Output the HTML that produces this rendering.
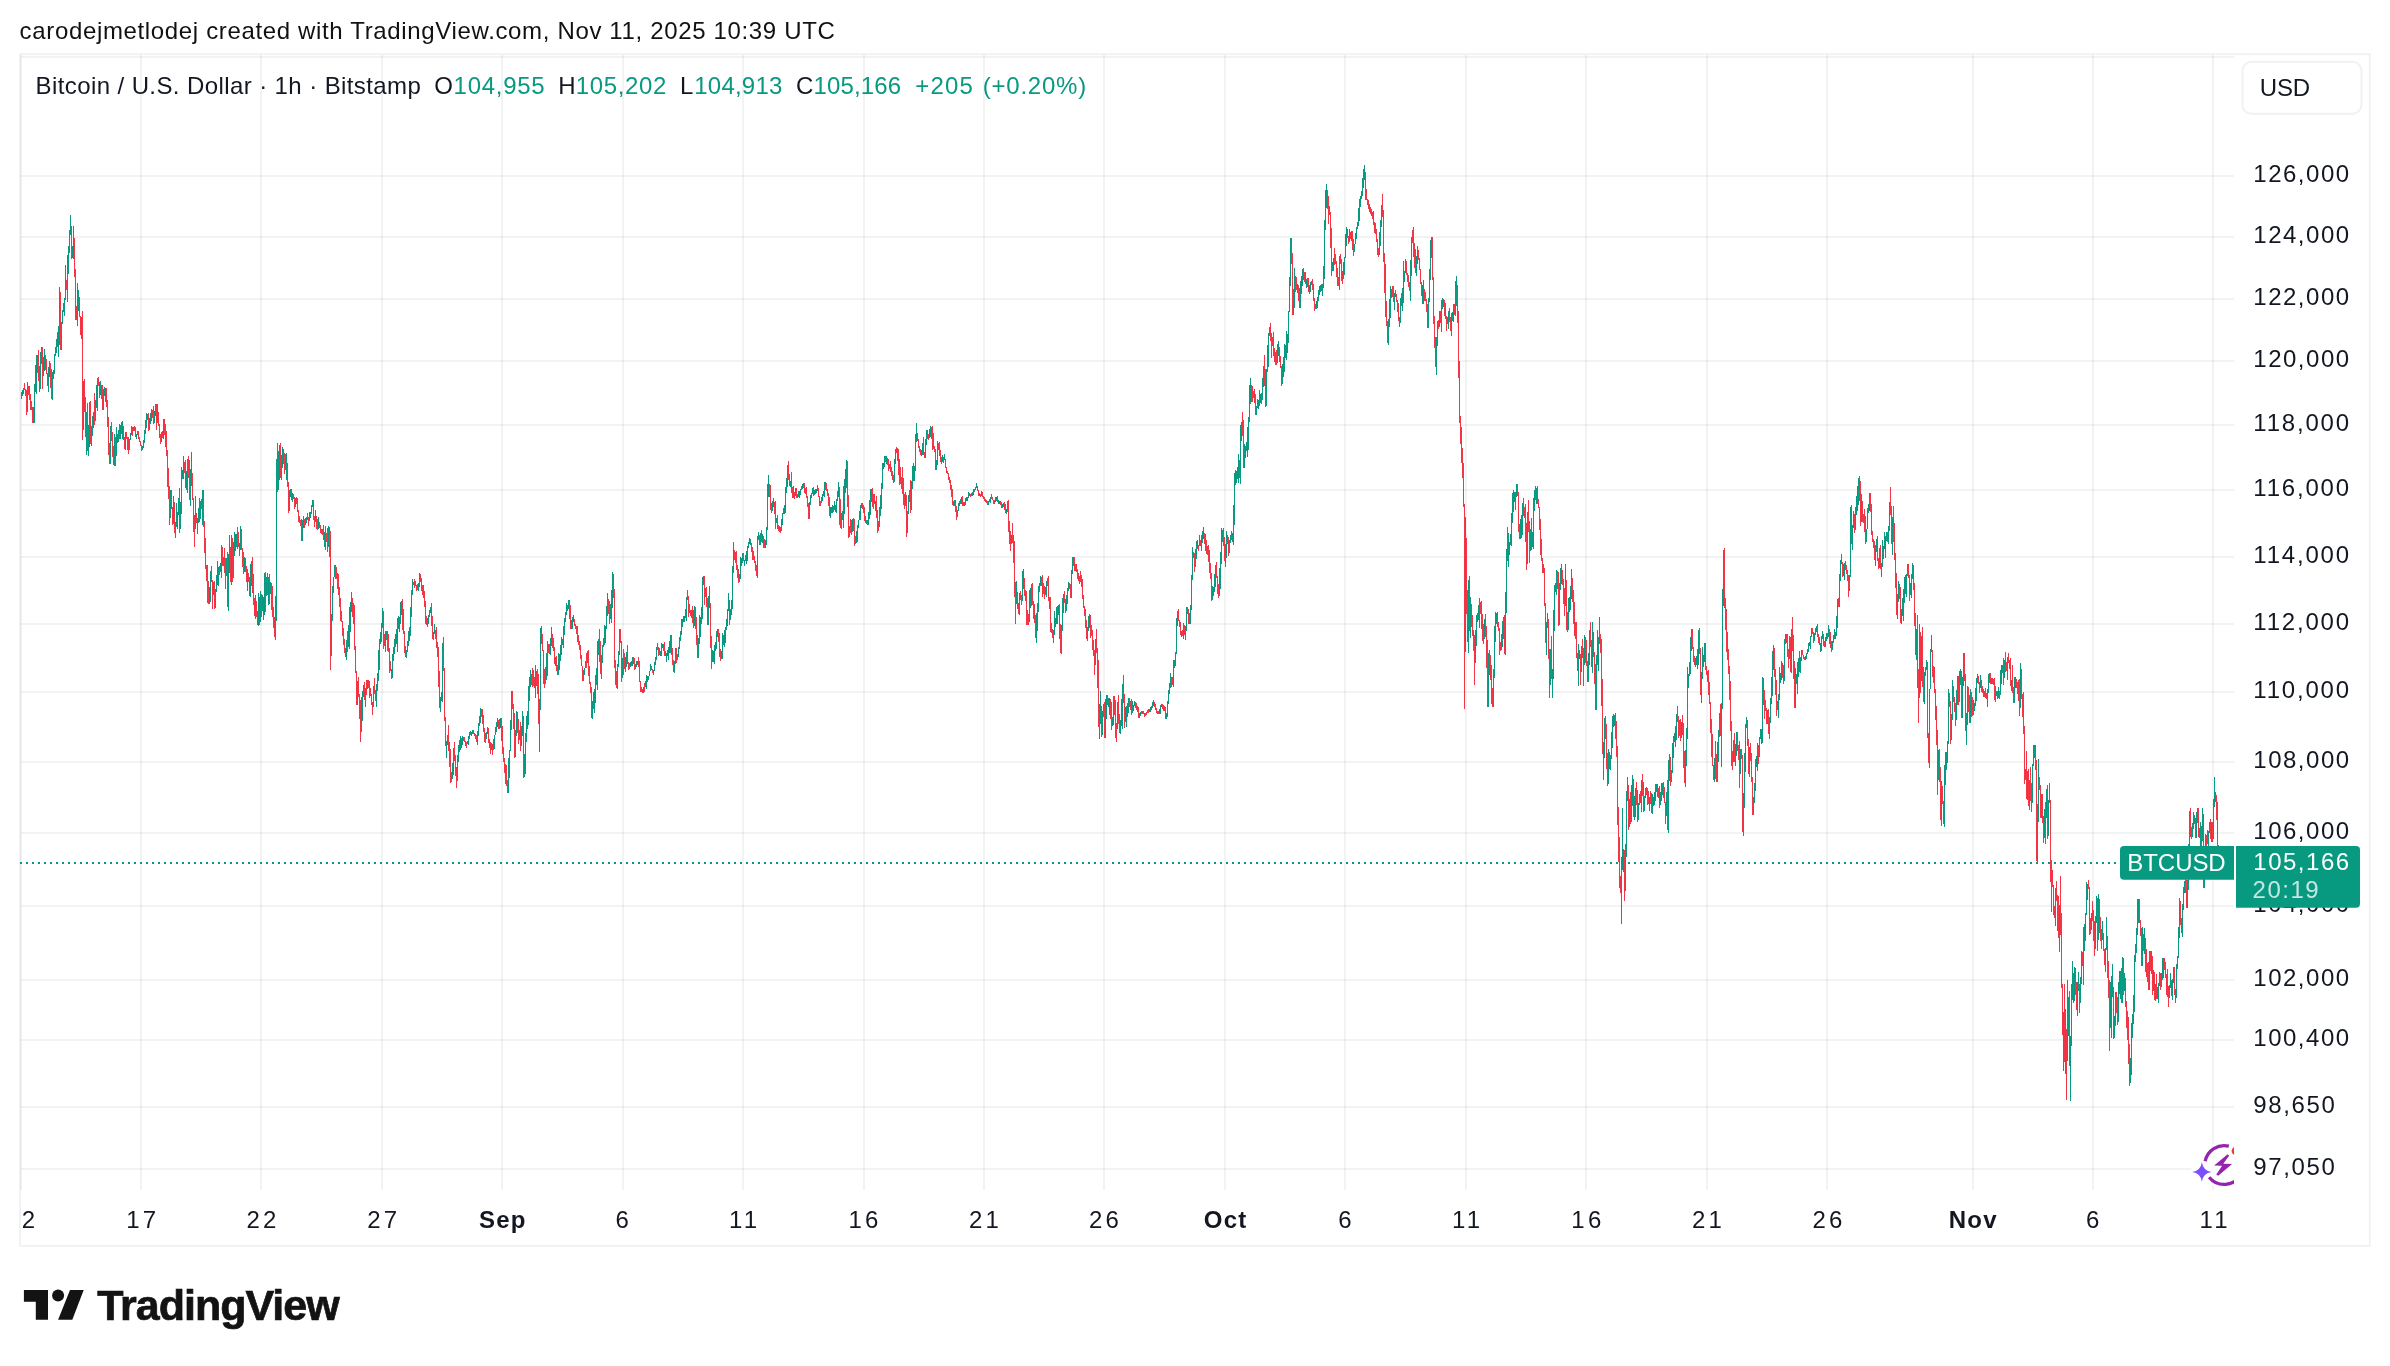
<!DOCTYPE html>
<html lang="en"><head><meta charset="utf-8"><title>BTCUSD chart — TradingView</title>
<style>
html,body{margin:0;padding:0;background:#fff;}
body{width:2390px;height:1366px;overflow:hidden;position:relative;font-family:"Liberation Sans",sans-serif;}
svg{position:absolute;left:0;top:0;display:block;will-change:transform}
text{font-family:"Liberation Sans",sans-serif;font-size:24px;fill:#131722;white-space:pre}
.g{fill:#089981}
.b{font-weight:bold}
.w{fill:#fff}
</style></head><body>
<svg width="2390" height="1366" viewBox="0 0 2390 1366">
<rect width="2390" height="1366" fill="#fff"/>
<rect x="20.1" y="54.2" width="2349.7" height="1191.7" fill="none" stroke="#f1f2f4" stroke-width="2"/>
<g fill="rgba(42,46,57,0.06)"><rect x="20" y="55" width="2" height="1135"/><rect x="140" y="55" width="2" height="1135"/><rect x="260" y="55" width="2" height="1135"/><rect x="381" y="55" width="2" height="1135"/><rect x="501" y="55" width="2" height="1135"/><rect x="622" y="55" width="2" height="1135"/><rect x="742" y="55" width="2" height="1135"/><rect x="863" y="55" width="2" height="1135"/><rect x="983" y="55" width="2" height="1135"/><rect x="1103" y="55" width="2" height="1135"/><rect x="1224" y="55" width="2" height="1135"/><rect x="1344" y="55" width="2" height="1135"/><rect x="1465" y="55" width="2" height="1135"/><rect x="1585" y="55" width="2" height="1135"/><rect x="1706" y="55" width="2" height="1135"/><rect x="1826" y="55" width="2" height="1135"/><rect x="1972" y="55" width="2" height="1135"/><rect x="2092" y="55" width="2" height="1135"/><rect x="2212" y="55" width="2" height="1135"/><rect x="21" y="56" width="2213" height="2"/><rect x="21" y="175" width="2213" height="2"/><rect x="21" y="236" width="2213" height="2"/><rect x="21" y="298" width="2213" height="2"/><rect x="21" y="360" width="2213" height="2"/><rect x="21" y="424" width="2213" height="2"/><rect x="21" y="489" width="2213" height="2"/><rect x="21" y="556" width="2213" height="2"/><rect x="21" y="623" width="2213" height="2"/><rect x="21" y="691" width="2213" height="2"/><rect x="21" y="761" width="2213" height="2"/><rect x="21" y="832" width="2213" height="2"/><rect x="21" y="905" width="2213" height="2"/><rect x="21" y="979" width="2213" height="2"/><rect x="21" y="1039" width="2213" height="2"/><rect x="21" y="1106" width="2213" height="2"/><rect x="21" y="1168" width="2213" height="2"/></g>
<g fill="none" stroke-width="1" shape-rendering="crispEdges">
<path stroke="#f23645" d="M24.5 383.3V389.7M25.5 388.9V395.7M26.5 389.8V415.3M28.5 385.6V394.6M29.5 385.7V400.1M30.5 394.1V409.6M31.5 401.1V410.1M32.5 406.5V423.2M38.5 349.8V380.9M42.5 347.3V388.9M45.5 354.5V369.8M46.5 359.0V374.1M47.5 373.1V385.5M50.5 362.8V388.4M51.5 369.0V398.9M60.5 292.4V350.3M66.5 280.3V290.0M71.5 226.2V259.1M74.5 237.5V277.3M75.5 268.6V319.9M76.5 306.3V319.7M79.5 297.3V316.6M80.5 316.2V334.8M82.5 310.7V439.6M84.5 378.9V412.0M85.5 397.1V436.9M87.5 403.0V451.0M90.5 400.9V444.2M94.5 393.0V425.4M98.5 377.0V386.0M99.5 382.1V398.0M101.5 385.0V399.3M102.5 384.6V409.7M106.5 388.2V406.5M107.5 399.7V427.2M108.5 417.1V454.6M109.5 442.5V463.8M111.5 421.8V441.1M112.5 432.0V456.7M113.5 446.3V464.9M115.5 436.7V466.2M119.5 423.6V438.9M121.5 422.2V433.6M123.5 425.9V439.5M124.5 436.5V449.0M126.5 432.2V439.1M127.5 436.7V450.1M128.5 436.6V453.6M132.5 427.0V435.8M134.5 426.3V430.9M135.5 427.3V436.8M137.5 430.6V435.4M138.5 430.6V438.5M139.5 437.3V441.9M140.5 441.2V445.7M141.5 444.7V450.8M148.5 413.1V430.7M152.5 410.4V418.0M153.5 406.4V423.7M156.5 404.4V429.8M158.5 412.3V426.4M159.5 423.6V437.6M160.5 433.9V444.0M162.5 430.5V438.3M164.5 418.8V434.8M165.5 424.4V447.0M166.5 430.9V455.6M167.5 449.7V486.8M168.5 468.0V498.5M169.5 486.1V525.3M171.5 489.5V509.0M172.5 507.0V525.3M174.5 502.4V533.3M179.5 488.0V532.5M184.5 462.0V472.7M185.5 459.9V488.1M188.5 455.9V478.0M189.5 460.1V500.4M192.5 472.6V500.0M193.5 497.8V532.0M194.5 514.6V547.0M196.5 512.9V523.4M201.5 498.7V508.8M203.5 489.9V527.2M204.5 520.9V553.3M205.5 538.1V568.8M206.5 564.8V581.0M207.5 564.7V603.2M208.5 581.0V604.2M211.5 566.0V582.4M212.5 579.7V608.8M214.5 580.5V608.7M219.5 566.2V575.2M222.5 546.7V565.9M223.5 556.5V565.5M224.5 547.9V572.7M225.5 557.5V588.9M227.5 551.6V607.3M230.5 547.3V581.5M232.5 537.5V581.9M237.5 526.8V548.6M238.5 532.1V547.4M241.5 528.5V549.7M242.5 547.7V567.3M243.5 551.7V573.7M245.5 558.1V572.3M246.5 566.1V582.1M248.5 573.2V582.2M249.5 577.1V596.1M252.5 556.7V592.9M253.5 573.5V605.1M254.5 597.7V615.5M256.5 600.5V616.8M261.5 593.8V617.1M265.5 571.8V611.6M267.5 573.0V595.3M269.5 574.1V604.0M271.5 582.7V610.3M272.5 586.0V617.0M273.5 607.2V627.8M274.5 617.0V637.3M277.5 442.8V491.9M280.5 443.0V478.2M283.5 448.8V463.9M284.5 452.6V473.9M285.5 453.5V469.7M287.5 463.3V486.5M288.5 482.4V513.1M291.5 488.8V499.6M293.5 493.7V498.5M294.5 497.2V508.8M296.5 496.9V504.3M297.5 497.8V512.4M298.5 510.2V521.9M299.5 515.5V522.7M300.5 519.9V526.4M301.5 518.5V540.8M304.5 518.8V527.5M307.5 513.2V520.1M308.5 517.2V525.8M313.5 500.1V520.2M314.5 516.0V526.5M316.5 515.5V529.2M317.5 519.0V529.9M319.5 522.1V527.8M320.5 524.9V533.2M321.5 528.6V534.3M322.5 529.0V534.8M323.5 524.8V540.1M325.5 525.7V549.6M326.5 532.9V541.9M327.5 528.2V551.8M329.5 526.5V556.7M330.5 530.5V669.9M335.5 565.1V578.6M336.5 566.9V578.8M337.5 572.9V588.8M338.5 574.2V595.4M339.5 586.5V607.0M340.5 598.1V621.1M341.5 611.1V621.9M342.5 620.7V635.5M343.5 628.3V644.6M344.5 638.6V653.3M347.5 631.4V652.3M352.5 598.3V616.7M353.5 602.7V623.9M354.5 604.5V650.3M355.5 645.8V672.7M356.5 671.0V705.0M358.5 676.8V697.3M359.5 693.5V718.8M360.5 699.9V741.7M364.5 681.9V699.5M366.5 680.1V695.3M368.5 680.1V687.8M369.5 681.4V698.0M370.5 688.2V695.8M371.5 694.3V705.0M372.5 702.4V715.4M374.5 677.6V694.2M375.5 689.8V700.5M383.5 610.7V648.8M384.5 633.5V645.5M387.5 630.7V650.7M388.5 633.6V651.9M389.5 647.9V673.2M390.5 661.4V670.9M391.5 669.4V678.6M402.5 599.3V629.6M403.5 608.6V634.3M404.5 631.1V652.5M405.5 646.4V656.7M414.5 579.1V588.2M416.5 584.5V590.9M417.5 583.6V590.3M420.5 573.6V582.1M421.5 578.0V591.0M422.5 585.3V595.3M423.5 585.1V598.0M424.5 591.2V607.4M425.5 601.2V623.7M426.5 616.1V625.0M431.5 603.1V626.1M432.5 615.7V639.0M435.5 630.1V639.1M436.5 627.4V648.3M437.5 641.8V656.8M438.5 647.1V687.1M439.5 670.8V707.5M443.5 636.9V671.1M444.5 667.7V720.8M445.5 717.1V745.8M448.5 724.8V751.1M449.5 741.7V767.2M450.5 749.2V782.6M451.5 772.4V782.3M454.5 741.5V760.7M455.5 755.2V776.3M456.5 766.7V787.5M463.5 736.7V740.8M464.5 737.1V741.6M465.5 740.6V745.5M466.5 742.0V747.7M473.5 730.0V734.0M474.5 733.0V736.0M475.5 734.0V739.1M476.5 734.5V741.8M481.5 708.5V717.1M482.5 708.7V724.3M483.5 714.7V731.5M484.5 727.6V742.1M485.5 732.7V742.8M488.5 727.8V742.8M489.5 739.2V747.9M490.5 742.3V754.1M492.5 744.3V755.3M498.5 720.2V729.2M501.5 718.3V740.6M502.5 726.2V754.4M503.5 747.2V762.2M504.5 757.6V772.8M505.5 764.0V783.5M506.5 764.8V785.5M507.5 780.1V792.9M512.5 691.1V708.9M513.5 703.9V728.8M514.5 712.6V758.1M517.5 711.6V732.9M518.5 719.2V744.0M519.5 729.6V740.1M520.5 721.8V751.3M523.5 715.6V777.9M531.5 673.6V685.0M532.5 668.1V687.4M533.5 670.3V685.5M534.5 677.4V688.3M536.5 670.8V686.0M537.5 668.9V694.2M538.5 674.0V723.8M542.5 634.1V651.2M543.5 650.2V683.5M544.5 668.5V687.8M545.5 667.3V683.8M548.5 644.1V653.4M549.5 643.7V654.2M552.5 633.5V648.0M553.5 638.1V651.4M554.5 647.3V663.7M556.5 655.7V671.3M557.5 664.6V675.0M567.5 604.8V610.7M569.5 599.9V619.0M570.5 604.9V629.0M574.5 618.8V625.9M575.5 624.1V629.2M576.5 625.9V633.9M577.5 625.9V641.8M578.5 634.6V644.7M579.5 640.7V649.6M580.5 645.2V658.9M581.5 655.3V666.2M582.5 665.6V680.7M586.5 653.0V668.3M588.5 650.3V675.7M589.5 665.6V683.8M590.5 682.2V693.3M591.5 687.4V717.9M599.5 628.9V661.7M600.5 640.5V674.3M608.5 599.4V613.9M609.5 600.7V623.6M613.5 573.8V597.5M614.5 589.2V668.0M615.5 660.4V684.8M616.5 671.2V688.2M620.5 628.6V643.1M621.5 641.0V681.9M623.5 649.2V675.4M624.5 653.2V669.1M627.5 645.4V663.7M628.5 661.8V669.9M629.5 662.9V669.1M633.5 656.6V664.1M634.5 658.4V669.8M638.5 656.7V667.4M639.5 661.3V682.1M640.5 680.6V691.9M641.5 686.5V692.4M642.5 689.0V693.4M644.5 682.9V692.0M651.5 666.4V669.9M652.5 668.5V673.3M657.5 642.8V649.7M658.5 647.3V656.0M659.5 648.3V655.2M663.5 643.5V651.1M664.5 642.4V655.6M671.5 634.9V654.7M672.5 647.9V664.9M673.5 660.2V671.6M676.5 647.9V662.9M677.5 654.1V659.8M688.5 596.4V617.3M689.5 603.5V613.2M690.5 610.4V616.4M692.5 605.7V622.7M695.5 606.9V629.3M696.5 617.0V645.1M697.5 634.9V658.0M704.5 575.9V604.9M706.5 586.7V606.7M707.5 598.0V625.4M710.5 603.1V648.3M711.5 635.6V669.2M718.5 628.5V641.7M719.5 633.1V656.5M720.5 648.6V661.0M729.5 600.2V624.6M734.5 549.5V560.0M735.5 552.0V563.2M736.5 550.5V570.1M737.5 565.1V577.6M738.5 569.1V582.8M743.5 553.2V561.4M745.5 555.3V561.2M751.5 542.5V552.3M752.5 547.1V559.9M753.5 551.4V560.2M754.5 556.2V562.8M755.5 560.5V571.0M756.5 564.7V576.2M759.5 534.8V545.4M761.5 529.9V542.1M763.5 536.2V548.0M764.5 539.1V547.6M769.5 484.2V496.6M770.5 484.5V509.6M771.5 503.3V512.5M774.5 502.1V513.7M775.5 500.6V529.3M777.5 515.0V528.5M778.5 525.1V530.9M779.5 526.3V531.8M780.5 526.9V532.7M788.5 461.3V479.5M789.5 474.3V486.2M791.5 471.5V493.3M792.5 487.4V498.1M794.5 491.6V499.0M796.5 488.0V498.3M797.5 493.5V498.2M803.5 483.2V487.8M804.5 482.9V493.3M805.5 488.2V494.2M806.5 487.0V497.9M807.5 496.2V506.5M808.5 502.5V518.7M813.5 487.4V495.6M818.5 488.0V497.2M819.5 496.0V506.1M820.5 500.5V505.6M826.5 482.8V490.9M827.5 489.0V496.2M828.5 492.7V505.9M829.5 497.4V516.1M833.5 505.7V511.9M839.5 487.2V525.3M840.5 499.3V527.8M847.5 460.9V507.0M848.5 494.9V537.7M850.5 518.6V533.4M853.5 518.3V531.3M854.5 519.4V546.3M855.5 536.4V544.0M862.5 503.4V508.9M863.5 505.0V512.8M864.5 507.3V521.3M865.5 515.6V523.0M867.5 520.2V524.7M872.5 487.5V506.6M873.5 494.0V508.9M874.5 494.2V504.4M876.5 495.8V517.8M877.5 510.1V532.8M878.5 520.8V530.5M885.5 456.3V461.9M887.5 457.6V465.3M888.5 459.2V471.1M889.5 463.6V468.6M890.5 460.7V471.6M891.5 467.3V475.5M892.5 470.5V479.6M893.5 475.2V483.0M896.5 446.6V452.8M897.5 448.4V461.1M898.5 449.3V474.7M899.5 459.1V484.7M900.5 467.0V484.3M901.5 476.9V489.2M902.5 467.2V493.5M903.5 477.7V505.3M904.5 494.2V508.7M906.5 494.7V536.9M910.5 480.1V512.9M917.5 432.7V440.7M918.5 439.2V448.1M919.5 446.1V451.9M920.5 449.0V454.9M923.5 437.2V454.8M924.5 451.9V457.6M927.5 429.5V438.9M928.5 433.7V439.6M931.5 426.7V439.2M932.5 426.3V450.0M933.5 433.2V449.2M934.5 446.2V452.2M935.5 448.6V470.3M938.5 443.1V449.9M939.5 442.3V455.5M940.5 450.4V462.2M941.5 457.3V463.8M943.5 457.1V463.2M945.5 459.0V467.8M946.5 466.6V472.8M947.5 470.9V473.9M948.5 472.9V479.6M949.5 477.4V482.7M950.5 479.7V489.9M951.5 484.5V496.5M952.5 489.4V504.7M953.5 500.8V505.9M955.5 499.8V512.2M956.5 505.6V520.4M962.5 496.3V505.8M964.5 501.7V505.8M969.5 492.6V495.6M970.5 494.1V497.1M977.5 486.4V491.4M978.5 490.4V496.2M980.5 493.9V497.3M982.5 492.1V496.8M983.5 495.9V498.9M984.5 496.9V501.0M985.5 498.5V502.0M986.5 500.0V503.4M987.5 500.5V505.2M991.5 494.3V498.8M992.5 497.4V500.4M993.5 499.7V503.9M994.5 499.5V504.0M997.5 495.5V501.5M1000.5 501.4V505.2M1001.5 502.4V508.2M1004.5 501.7V510.0M1005.5 504.4V512.7M1008.5 499.8V531.7M1009.5 520.9V544.3M1010.5 531.4V550.6M1012.5 523.4V542.8M1013.5 534.6V563.2M1014.5 540.7V596.6M1015.5 582.1V624.2M1017.5 591.8V608.7M1018.5 602.5V613.5M1020.5 590.5V599.5M1021.5 594.9V605.2M1024.5 577.7V595.5M1025.5 589.5V601.3M1026.5 591.3V625.3M1027.5 610.2V625.1M1028.5 614.4V625.1M1031.5 584.4V606.2M1032.5 583.4V604.8M1033.5 600.8V618.6M1034.5 604.3V623.0M1035.5 614.9V638.4M1041.5 576.7V585.7M1042.5 575.4V597.1M1043.5 582.7V594.1M1044.5 586.3V599.2M1047.5 578.0V586.1M1048.5 575.7V600.9M1049.5 596.8V608.6M1050.5 597.3V632.0M1051.5 623.1V632.5M1052.5 629.0V637.7M1059.5 603.6V639.3M1060.5 623.7V653.0M1064.5 591.1V603.3M1065.5 598.8V612.8M1069.5 583.2V589.2M1070.5 584.2V597.6M1073.5 557.4V566.0M1074.5 557.1V571.3M1075.5 564.3V571.2M1076.5 563.7V571.9M1077.5 568.7V579.3M1078.5 572.5V581.2M1079.5 575.6V583.9M1080.5 570.9V582.3M1081.5 574.9V587.2M1082.5 578.7V598.5M1083.5 595.4V608.4M1084.5 605.6V616.2M1085.5 609.4V628.0M1086.5 620.0V639.2M1090.5 614.7V637.9M1091.5 625.4V635.6M1092.5 629.9V649.8M1093.5 639.6V656.0M1094.5 650.1V674.7M1096.5 629.3V652.6M1097.5 648.4V688.1M1098.5 660.4V726.9M1101.5 705.7V737.1M1104.5 702.0V737.5M1107.5 694.5V704.5M1110.5 699.0V718.8M1111.5 701.8V730.3M1114.5 695.7V715.3M1115.5 699.5V737.7M1116.5 723.2V742.4M1118.5 694.5V723.6M1119.5 714.3V733.1M1123.5 675.2V702.8M1124.5 694.2V727.8M1129.5 698.2V707.3M1130.5 701.0V709.8M1131.5 698.5V715.0M1135.5 701.9V708.2M1136.5 702.8V710.3M1137.5 705.8V712.2M1138.5 706.8V718.1M1141.5 710.8V713.8M1142.5 711.4V714.4M1143.5 711.0V714.0M1144.5 712.8V716.6M1145.5 712.6V715.6M1146.5 712.1V715.2M1147.5 710.3V713.4M1148.5 709.2V712.7M1154.5 701.6V707.0M1155.5 703.8V710.3M1156.5 708.2V713.3M1157.5 710.6V713.6M1158.5 711.1V714.4M1162.5 704.0V709.4M1163.5 705.0V711.1M1164.5 705.5V710.8M1165.5 706.8V718.7M1171.5 676.8V687.1M1172.5 677.0V684.7M1178.5 608.8V621.2M1179.5 619.7V626.8M1180.5 622.0V635.3M1182.5 630.3V636.2M1184.5 625.4V635.1M1187.5 607.2V613.9M1188.5 608.6V623.8M1193.5 552.1V557.5M1194.5 552.5V572.2M1198.5 544.5V551.4M1200.5 540.1V546.4M1204.5 532.8V544.3M1205.5 534.0V550.5M1206.5 540.1V553.6M1207.5 545.7V554.7M1208.5 544.8V561.9M1209.5 549.5V573.0M1210.5 563.2V578.9M1211.5 572.9V601.2M1216.5 561.6V578.0M1217.5 575.9V594.1M1218.5 584.4V597.9M1223.5 528.2V545.7M1224.5 537.0V560.9M1228.5 537.3V555.8M1231.5 531.4V540.4M1239.5 459.5V477.6M1242.5 411.5V436.3M1243.5 420.4V468.3M1251.5 385.1V401.5M1252.5 386.0V401.8M1253.5 391.4V397.9M1254.5 388.5V403.3M1255.5 394.4V414.5M1261.5 392.6V404.4M1264.5 354.7V385.5M1265.5 368.5V406.7M1270.5 323.4V340.7M1271.5 332.8V357.8M1272.5 337.1V346.1M1273.5 331.5V356.1M1274.5 348.2V361.9M1275.5 352.3V365.0M1276.5 349.6V365.1M1279.5 346.8V361.5M1280.5 355.8V368.1M1281.5 365.5V385.5M1291.5 238.0V263.9M1292.5 253.3V314.9M1295.5 276.3V292.3M1296.5 276.5V290.0M1298.5 284.8V301.0M1299.5 288.0V307.8M1303.5 268.3V280.4M1304.5 272.4V282.2M1305.5 271.7V283.9M1307.5 278.0V287.3M1308.5 277.6V292.2M1312.5 279.3V290.4M1313.5 283.7V300.8M1314.5 298.4V311.0M1315.5 303.8V309.1M1321.5 284.2V290.7M1327.5 190.3V209.2M1328.5 195.5V223.6M1329.5 205.9V214.9M1330.5 211.5V248.4M1331.5 227.6V275.9M1334.5 247.7V264.6M1335.5 254.2V264.4M1336.5 261.2V277.4M1337.5 267.9V286.1M1338.5 277.0V286.0M1340.5 253.6V263.5M1341.5 259.4V280.7M1342.5 270.8V284.1M1347.5 229.2V237.5M1348.5 235.9V243.9M1350.5 232.1V239.2M1352.5 230.7V249.6M1353.5 239.2V256.0M1365.5 172.4V199.6M1366.5 189.0V200.4M1367.5 198.7V204.9M1368.5 200.2V209.2M1369.5 203.7V211.7M1370.5 207.1V214.3M1371.5 209.0V216.0M1372.5 211.7V219.3M1373.5 211.2V225.3M1374.5 222.0V233.1M1375.5 222.7V234.4M1376.5 229.0V241.5M1377.5 238.9V254.8M1378.5 247.7V256.9M1382.5 193.7V216.6M1383.5 209.8V261.5M1384.5 253.3V292.9M1385.5 264.1V316.6M1386.5 300.8V325.7M1387.5 321.4V342.9M1392.5 286.2V297.0M1393.5 285.8V302.1M1395.5 289.7V296.6M1396.5 294.0V301.7M1397.5 299.7V312.0M1398.5 302.8V320.7M1406.5 261.2V274.9M1407.5 272.6V281.8M1408.5 275.3V287.4M1409.5 281.9V290.9M1412.5 229.9V243.1M1413.5 227.3V256.8M1414.5 242.6V267.6M1415.5 248.8V272.6M1418.5 249.7V260.0M1419.5 258.4V270.4M1420.5 269.1V284.3M1421.5 282.1V295.8M1424.5 288.5V300.6M1425.5 291.7V301.0M1426.5 298.7V312.0M1427.5 304.4V328.4M1432.5 237.3V279.5M1433.5 276.9V323.7M1434.5 315.9V348.1M1435.5 337.3V366.9M1438.5 320.0V329.0M1440.5 311.3V322.7M1443.5 298.6V307.0M1444.5 299.5V316.4M1445.5 302.5V318.8M1446.5 315.5V331.0M1449.5 307.9V321.9M1450.5 316.7V331.4M1454.5 303.9V315.2M1457.5 285.2V322.8M1458.5 311.1V377.7M1459.5 360.9V423.1M1460.5 415.7V444.2M1461.5 427.3V463.1M1462.5 448.3V477.7M1463.5 462.7V507.1M1464.5 504.2V708.5M1466.5 537.9V613.5M1467.5 590.2V642.2M1469.5 575.8V631.1M1471.5 604.2V626.6M1472.5 615.1V635.7M1473.5 630.2V651.0M1474.5 635.1V685.3M1480.5 602.2V613.9M1481.5 601.3V629.2M1482.5 613.8V640.7M1483.5 624.1V643.6M1485.5 614.0V636.8M1486.5 625.7V668.3M1487.5 639.5V707.3M1490.5 655.3V680.3M1491.5 664.7V703.7M1492.5 688.3V707.3M1497.5 611.7V627.0M1498.5 621.9V630.9M1499.5 628.2V655.1M1500.5 641.7V650.7M1504.5 615.2V654.2M1507.5 526.9V561.3M1517.5 484.0V496.2M1518.5 492.2V531.7M1519.5 523.7V538.8M1523.5 498.2V516.1M1524.5 506.7V518.1M1525.5 503.9V541.9M1526.5 522.7V570.0M1528.5 500.1V531.9M1529.5 521.4V562.6M1531.5 517.7V550.0M1535.5 485.8V499.8M1537.5 485.8V503.5M1538.5 498.8V508.2M1539.5 506.6V530.4M1540.5 518.6V555.1M1541.5 539.0V560.5M1542.5 558.1V573.0M1544.5 567.5V605.7M1545.5 602.8V643.0M1548.5 618.6V658.5M1549.5 648.7V698.2M1551.5 636.3V678.8M1557.5 571.0V589.3M1558.5 572.3V625.6M1562.5 570.4V585.0M1563.5 579.1V604.4M1564.5 587.6V616.2M1566.5 580.1V629.9M1572.5 577.9V601.6M1573.5 589.9V624.1M1574.5 601.5V635.5M1575.5 621.5V638.5M1576.5 621.6V658.0M1577.5 653.0V670.9M1580.5 654.1V684.7M1582.5 638.8V658.0M1583.5 648.1V686.4M1585.5 636.7V662.6M1586.5 639.9V665.7M1587.5 661.2V682.4M1590.5 622.0V647.2M1591.5 639.9V666.6M1593.5 632.3V656.7M1594.5 651.8V683.8M1595.5 664.2V709.6M1600.5 634.1V652.7M1601.5 639.3V705.5M1602.5 678.7V753.8M1605.5 716.1V739.4M1606.5 724.4V769.3M1607.5 753.0V785.9M1609.5 752.4V769.1M1615.5 713.1V738.6M1616.5 721.3V757.2M1617.5 746.1V825.1M1618.5 807.0V861.6M1619.5 837.2V887.5M1620.5 876.1V892.9M1624.5 849.7V900.5M1628.5 785.4V829.9M1630.5 792.4V824.4M1633.5 779.0V816.9M1636.5 782.2V805.0M1637.5 789.8V821.8M1640.5 791.4V803.3M1642.5 773.8V795.6M1643.5 782.0V811.8M1646.5 786.5V794.7M1647.5 788.2V805.3M1648.5 790.6V804.4M1650.5 790.6V803.6M1651.5 793.1V812.8M1657.5 784.4V797.1M1658.5 788.3V798.2M1659.5 785.8V808.2M1663.5 782.2V797.8M1664.5 786.5V803.1M1665.5 801.8V824.3M1667.5 780.4V830.0M1670.5 756.7V786.3M1677.5 706.3V721.9M1678.5 715.7V737.6M1679.5 719.9V735.5M1680.5 719.1V741.0M1682.5 714.7V735.2M1683.5 722.5V767.8M1684.5 751.3V783.3M1692.5 628.8V649.0M1693.5 646.5V662.3M1694.5 655.6V664.6M1699.5 628.4V653.8M1700.5 647.5V694.7M1705.5 643.1V670.0M1706.5 665.8V674.8M1708.5 669.9V694.8M1709.5 682.0V703.7M1710.5 701.9V733.4M1711.5 718.9V757.1M1712.5 733.6V765.5M1713.5 764.6V780.1M1715.5 740.8V778.5M1716.5 753.7V782.4M1720.5 704.3V736.2M1724.5 548.0V608.3M1725.5 597.9V630.2M1726.5 609.2V651.9M1727.5 632.2V660.2M1728.5 649.0V674.3M1729.5 665.7V700.1M1730.5 680.5V730.7M1731.5 721.4V765.8M1732.5 750.9V770.4M1734.5 733.0V761.7M1737.5 732.4V750.9M1738.5 745.4V759.7M1739.5 741.4V788.3M1741.5 749.2V758.6M1742.5 755.1V831.6M1747.5 719.9V746.2M1748.5 739.2V774.0M1750.5 742.7V761.4M1751.5 753.2V781.5M1752.5 777.4V814.9M1758.5 745.2V763.8M1763.5 677.7V704.7M1764.5 690.4V718.6M1765.5 699.9V710.5M1766.5 708.0V723.8M1768.5 709.4V734.4M1774.5 647.5V676.7M1775.5 668.5V694.8M1776.5 679.8V716.4M1782.5 663.1V677.9M1783.5 664.5V683.7M1786.5 634.0V643.0M1787.5 633.5V656.8M1788.5 649.0V667.5M1790.5 637.1V672.1M1792.5 616.5V650.5M1793.5 635.4V679.4M1794.5 660.6V707.6M1802.5 650.2V655.4M1803.5 655.0V658.5M1804.5 657.2V660.2M1812.5 627.9V634.4M1813.5 632.2V642.8M1817.5 623.7V636.9M1818.5 634.4V643.0M1819.5 637.1V645.0M1823.5 634.2V646.3M1824.5 640.7V646.8M1827.5 632.8V638.7M1829.5 629.2V643.9M1830.5 632.1V648.1M1831.5 640.5V651.9M1838.5 598.4V607.1M1842.5 561.9V577.0M1845.5 561.1V570.1M1846.5 565.4V574.4M1847.5 570.4V581.4M1848.5 574.7V596.5M1851.5 504.6V543.9M1854.5 514.1V533.0M1859.5 476.4V500.7M1860.5 481.2V525.9M1862.5 501.0V522.4M1863.5 513.7V522.7M1864.5 509.2V531.8M1865.5 515.5V544.3M1870.5 493.2V512.1M1871.5 504.1V534.9M1872.5 531.0V542.3M1873.5 538.6V547.9M1874.5 541.0V560.0M1877.5 536.3V560.7M1878.5 558.1V569.0M1880.5 544.8V568.9M1887.5 531.6V541.7M1890.5 486.9V515.1M1891.5 505.9V544.0M1893.5 506.1V541.6M1894.5 523.4V559.9M1895.5 552.9V588.2M1896.5 573.3V614.7M1899.5 584.0V599.3M1900.5 587.1V622.9M1908.5 563.8V577.6M1909.5 574.7V600.9M1913.5 564.7V590.0M1914.5 582.6V625.5M1915.5 613.2V655.4M1917.5 614.6V687.9M1918.5 669.0V723.4M1920.5 632.3V693.1M1922.5 627.4V686.6M1923.5 667.0V701.9M1927.5 662.4V738.4M1928.5 732.6V762.5M1932.5 649.6V677.0M1933.5 666.1V683.4M1934.5 667.2V693.0M1935.5 688.8V719.6M1936.5 705.9V745.3M1937.5 730.3V794.8M1939.5 749.3V782.2M1940.5 767.2V819.5M1942.5 785.6V804.1M1943.5 800.6V824.1M1949.5 693.0V706.8M1950.5 700.8V744.3M1953.5 685.7V701.6M1954.5 697.2V711.7M1955.5 703.3V726.1M1958.5 676.4V704.9M1961.5 671.2V717.5M1964.5 653.0V681.4M1965.5 673.6V730.7M1968.5 686.5V712.2M1969.5 695.4V722.8M1971.5 692.0V716.8M1972.5 696.8V715.7M1978.5 676.0V683.9M1979.5 681.7V692.8M1981.5 679.7V692.2M1982.5 685.9V693.2M1983.5 688.9V697.1M1984.5 690.7V696.9M1985.5 687.7V697.6M1986.5 693.4V699.4M1990.5 673.3V684.2M1992.5 678.0V684.2M1993.5 678.5V684.9M1994.5 678.4V699.6M1995.5 686.3V702.3M1997.5 691.0V698.9M1999.5 690.7V698.7M2003.5 657.5V684.8M2005.5 651.9V671.5M2006.5 661.9V671.2M2008.5 653.4V663.0M2009.5 660.2V669.2M2010.5 657.7V685.9M2012.5 665.0V693.3M2013.5 687.0V702.8M2016.5 678.8V687.8M2017.5 681.7V693.6M2018.5 679.5V701.3M2019.5 679.4V716.2M2021.5 668.9V699.4M2022.5 693.9V716.6M2023.5 691.8V734.1M2024.5 725.9V783.8M2026.5 751.3V798.7M2028.5 768.7V806.4M2030.5 766.5V800.9M2031.5 782.7V811.5M2035.5 745.2V769.8M2036.5 759.7V861.4M2039.5 776.6V790.4M2040.5 784.6V818.4M2042.5 794.3V822.6M2043.5 815.6V843.0M2045.5 802.2V844.0M2047.5 785.4V838.5M2050.5 800.1V882.2M2051.5 859.8V911.8M2052.5 870.3V887.2M2053.5 884.8V915.1M2054.5 906.4V918.3M2056.5 880.5V901.2M2057.5 895.4V931.4M2058.5 896.4V938.3M2060.5 876.1V934.7M2061.5 912.9V987.8M2062.5 984.1V1034.9M2064.5 983.7V1062.4M2066.5 1028.9V1099.7M2069.5 990.7V1066.0M2073.5 973.2V1003.3M2075.5 967.7V995.4M2076.5 981.9V1010.0M2079.5 984.2V1012.7M2082.5 952.1V965.6M2088.5 880.1V889.1M2089.5 886.5V935.1M2090.5 918.4V933.6M2092.5 901.2V921.3M2093.5 909.7V941.2M2094.5 921.2V955.8M2097.5 897.6V951.0M2099.5 898.9V933.2M2100.5 917.1V941.0M2101.5 929.2V949.0M2103.5 933.1V951.4M2104.5 949.4V964.8M2107.5 936.0V978.0M2108.5 960.7V997.9M2109.5 979.8V1050.9M2113.5 986.5V1038.7M2116.5 992.1V1012.6M2117.5 997.4V1024.9M2121.5 968.4V1003.2M2123.5 958.2V994.9M2125.5 978.1V1006.5M2126.5 1001.3V1028.2M2127.5 1010.7V1039.5M2128.5 1017.2V1064.4M2129.5 1043.7V1085.7M2139.5 899.4V923.3M2140.5 919.6V936.2M2141.5 927.6V966.2M2143.5 933.5V950.5M2145.5 937.7V971.7M2146.5 948.6V977.2M2147.5 963.3V981.5M2148.5 962.0V990.0M2150.5 951.4V970.9M2152.5 955.7V994.9M2154.5 972.0V999.5M2156.5 974.1V998.6M2160.5 973.4V990.1M2164.5 957.6V970.3M2165.5 962.4V978.3M2166.5 973.9V995.1M2167.5 969.1V996.9M2168.5 985.5V1007.2M2171.5 980.1V995.8M2174.5 967.0V994.5M2180.5 901.3V925.0M2181.5 917.8V933.1M2185.5 876.0V893.0M2186.5 879.7V908.2M2190.5 808.3V837.0M2191.5 827.3V839.4M2195.5 818.2V837.7M2198.5 807.5V836.5M2199.5 827.7V838.1M2201.5 826.0V846.0M2203.5 814.4V887.6M2206.5 834.8V846.9M2207.5 830.0V843.5M2210.5 818.6V838.8M2212.5 822.4V841.9M2216.5 795.0V819.8M2217.5 802.1V848.4M2218.5 845.4V867.8"/>
<path stroke="#089981" d="M21.5 392.1V398.7M22.5 389.6V396.2M23.5 388.2V393.6M27.5 381.8V411.5M33.5 407.3V423.2M34.5 383.9V423.2M35.5 365.1V391.9M36.5 354.8V394.0M37.5 355.1V373.1M39.5 366.2V392.4M40.5 352.0V388.6M41.5 347.0V363.9M43.5 356.6V376.1M44.5 349.1V371.4M48.5 366.8V391.7M49.5 360.9V377.3M52.5 372.0V399.9M53.5 369.6V378.6M54.5 354.0V374.0M55.5 347.3V356.3M56.5 338.6V352.7M57.5 332.1V346.8M58.5 325.5V357.3M59.5 286.5V345.2M61.5 322.4V350.2M62.5 309.5V324.2M63.5 302.5V312.4M64.5 298.1V316.0M65.5 264.9V300.1M67.5 255.4V301.6M68.5 246.0V273.8M69.5 230.3V252.7M70.5 215.1V234.6M72.5 245.5V258.2M73.5 225.6V259.2M77.5 282.6V325.5M78.5 289.9V310.8M81.5 316.8V339.2M83.5 380.7V429.9M86.5 412.3V454.6M88.5 425.0V455.9M89.5 402.2V446.6M91.5 425.6V446.4M92.5 415.5V435.8M93.5 412.3V427.5M95.5 400.2V420.5M96.5 384.6V407.8M97.5 378.1V410.6M100.5 381.1V395.4M103.5 388.7V409.8M104.5 386.8V395.8M105.5 387.6V401.6M110.5 425.8V464.3M114.5 434.3V465.9M116.5 427.3V456.2M117.5 434.2V443.2M118.5 430.1V442.0M120.5 425.3V438.7M122.5 420.6V439.0M125.5 431.7V450.3M129.5 439.2V450.3M130.5 433.4V439.7M131.5 425.7V435.3M133.5 426.8V430.8M136.5 433.8V438.6M142.5 446.0V450.3M143.5 439.7V447.5M144.5 429.5V442.9M145.5 419.5V433.9M146.5 413.0V427.9M147.5 414.0V420.3M149.5 418.4V429.7M150.5 412.8V423.8M151.5 408.9V420.5M154.5 411.2V422.6M155.5 404.3V416.0M157.5 404.0V422.5M161.5 431.6V441.6M163.5 419.2V438.8M170.5 490.0V518.4M173.5 496.4V524.3M175.5 522.4V538.1M176.5 502.6V527.3M177.5 511.8V529.3M178.5 498.0V515.4M180.5 502.2V529.1M181.5 467.2V514.3M182.5 469.6V478.6M183.5 456.4V479.3M186.5 470.9V489.6M187.5 458.9V493.0M190.5 469.4V506.0M191.5 451.6V485.6M195.5 496.2V529.2M197.5 517.6V534.2M198.5 507.6V522.9M199.5 497.5V522.3M200.5 501.0V519.3M202.5 490.0V525.0M209.5 587.0V604.2M210.5 570.8V602.0M213.5 582.0V594.7M215.5 588.9V608.4M216.5 575.3V592.3M217.5 560.5V585.1M218.5 567.0V586.1M220.5 563.0V572.0M221.5 544.7V577.6M226.5 558.2V576.4M228.5 554.2V611.4M229.5 535.4V573.3M231.5 535.4V584.7M233.5 542.3V578.3M234.5 531.6V556.4M235.5 533.6V550.8M236.5 533.9V547.4M239.5 543.3V556.2M240.5 525.6V550.2M244.5 557.2V571.7M247.5 569.3V591.3M250.5 564.4V597.0M251.5 561.4V586.1M255.5 594.8V618.8M257.5 611.3V624.6M258.5 593.2V626.1M259.5 596.8V624.6M260.5 591.0V621.5M262.5 594.7V611.4M263.5 597.1V619.5M264.5 573.3V614.6M266.5 577.4V595.9M268.5 576.6V605.0M270.5 582.0V593.8M275.5 596.4V640.4M276.5 459.0V621.0M278.5 451.2V489.9M279.5 444.9V480.0M281.5 455.0V479.9M282.5 446.5V467.9M286.5 452.6V479.5M289.5 489.8V511.1M290.5 488.7V496.8M292.5 493.3V502.4M295.5 497.7V507.3M302.5 519.6V541.2M303.5 516.2V527.9M305.5 518.1V525.1M306.5 516.7V523.1M309.5 511.7V521.0M310.5 512.0V517.6M311.5 504.8V514.3M312.5 500.1V507.4M315.5 510.4V522.1M318.5 517.3V528.6M324.5 532.4V546.7M328.5 526.0V546.7M331.5 613.6V656.2M332.5 585.8V620.9M333.5 576.5V592.5M334.5 565.1V577.0M345.5 647.5V656.5M346.5 639.5V659.9M348.5 624.8V646.5M349.5 606.9V649.3M350.5 601.5V632.0M351.5 592.4V612.4M357.5 681.4V705.0M361.5 696.8V731.5M362.5 690.9V721.1M363.5 685.2V696.7M365.5 687.6V707.0M367.5 680.1V689.1M373.5 686.1V707.4M376.5 683.9V706.7M377.5 672.9V691.1M378.5 650.4V680.6M379.5 639.1V670.1M380.5 631.6V644.4M381.5 622.5V642.2M382.5 608.2V627.9M385.5 630.6V652.3M386.5 631.3V640.3M392.5 653.7V677.8M393.5 647.2V661.1M394.5 638.7V653.8M395.5 633.6V646.8M396.5 628.6V644.1M397.5 618.4V652.4M398.5 616.4V628.7M399.5 616.6V631.8M400.5 602.3V623.7M401.5 600.7V615.0M406.5 649.9V657.7M407.5 641.0V651.7M408.5 630.5V646.1M409.5 626.9V640.9M410.5 607.0V635.7M411.5 589.6V617.1M412.5 579.4V594.8M413.5 581.7V585.2M415.5 581.4V586.1M418.5 583.2V591.1M419.5 573.2V586.9M427.5 618.3V627.2M428.5 615.2V623.5M429.5 610.2V616.9M430.5 606.5V612.9M433.5 632.3V639.7M434.5 623.5V634.4M440.5 696.5V712.2M441.5 692.0V701.4M442.5 643.3V701.8M446.5 741.4V758.0M447.5 734.6V744.8M452.5 763.2V778.5M453.5 748.2V775.3M457.5 755.3V780.9M458.5 744.7V761.8M459.5 739.9V752.3M460.5 736.0V750.2M461.5 738.3V748.1M462.5 736.3V745.1M467.5 740.6V744.2M468.5 735.5V744.7M469.5 732.2V739.2M470.5 731.1V734.7M471.5 732.2V736.3M472.5 730.0V734.1M477.5 731.2V744.7M478.5 722.7V736.4M479.5 716.2V725.9M480.5 708.4V723.0M486.5 732.1V738.6M487.5 727.3V733.7M491.5 743.3V750.4M493.5 738.8V749.7M494.5 734.9V749.2M495.5 727.3V735.4M496.5 722.2V732.3M497.5 718.2V727.4M499.5 718.6V729.1M500.5 717.8V728.1M508.5 757.8V792.7M509.5 749.9V778.3M510.5 720.3V750.6M511.5 691.1V730.4M515.5 729.5V756.7M516.5 711.4V735.8M521.5 725.9V745.8M522.5 711.4V735.8M524.5 753.6V777.2M525.5 732.6V773.7M526.5 716.3V741.8M527.5 711.1V729.1M528.5 686.4V725.1M529.5 676.5V700.8M530.5 669.9V687.4M535.5 665.4V697.7M539.5 699.3V751.5M540.5 628.1V710.4M541.5 626.1V644.2M546.5 652.9V680.3M547.5 641.0V676.4M550.5 638.3V655.0M551.5 626.8V646.0M555.5 657.1V665.8M558.5 653.2V674.9M559.5 654.3V669.8M560.5 644.9V660.8M561.5 637.0V655.4M562.5 639.3V645.3M563.5 626.2V647.5M564.5 618.0V635.0M565.5 612.1V622.1M566.5 603.2V614.9M568.5 600.1V608.6M571.5 619.6V629.0M572.5 616.8V629.2M573.5 614.5V622.4M583.5 669.6V680.8M584.5 667.6V675.2M585.5 661.1V668.3M587.5 650.7V662.7M592.5 701.3V719.0M593.5 692.1V708.8M594.5 688.9V713.0M595.5 675.0V703.4M596.5 668.2V685.2M597.5 640.7V689.9M598.5 638.6V655.3M601.5 655.1V679.0M602.5 644.7V662.7M603.5 638.2V647.2M604.5 624.8V645.1M605.5 626.1V643.3M606.5 605.7V629.0M607.5 592.5V616.1M610.5 603.6V618.9M611.5 589.7V622.8M612.5 571.9V608.4M617.5 663.7V689.1M618.5 650.8V667.3M619.5 628.6V654.6M622.5 658.1V678.0M625.5 657.1V672.4M626.5 652.0V667.4M630.5 662.1V666.6M631.5 661.3V666.2M632.5 656.8V665.7M635.5 664.2V669.4M636.5 661.0V666.6M637.5 660.8V664.9M643.5 687.0V693.3M645.5 680.5V686.9M646.5 674.8V689.1M647.5 675.5V681.8M648.5 675.5V680.1M649.5 670.8V676.0M650.5 664.4V671.0M653.5 670.3V674.8M654.5 661.6V670.5M655.5 656.8V664.7M656.5 647.3V659.6M660.5 651.0V655.6M661.5 642.9V655.5M662.5 644.1V647.6M665.5 650.7V656.2M666.5 652.7V662.0M667.5 649.8V655.8M668.5 647.0V660.0M669.5 640.7V653.3M670.5 635.1V652.6M674.5 661.4V672.9M675.5 647.5V664.0M678.5 647.2V656.5M679.5 637.1V648.9M680.5 630.7V641.3M681.5 619.4V634.6M682.5 619.2V627.2M683.5 615.6V621.5M684.5 616.4V621.5M685.5 609.4V618.2M686.5 597.0V620.9M687.5 590.3V599.8M691.5 610.0V617.7M693.5 610.1V627.7M694.5 606.1V626.4M698.5 638.3V658.2M699.5 615.2V643.7M700.5 617.0V637.3M701.5 606.9V624.1M702.5 577.3V619.2M703.5 576.4V585.4M705.5 588.0V597.0M708.5 595.6V625.2M709.5 585.7V607.5M712.5 649.5V661.9M713.5 650.7V662.3M714.5 644.9V663.6M715.5 642.0V651.0M716.5 630.6V648.9M717.5 628.5V637.2M721.5 651.4V658.6M722.5 632.7V659.4M723.5 635.3V645.2M724.5 630.3V646.7M725.5 627.4V642.5M726.5 618.6V630.3M727.5 609.0V625.5M728.5 593.2V610.9M730.5 609.2V620.0M731.5 600.2V614.7M732.5 565.7V609.0M733.5 542.3V573.3M739.5 573.5V582.1M740.5 557.3V578.7M741.5 558.1V566.4M742.5 553.0V562.7M744.5 559.8V566.4M746.5 550.9V563.9M747.5 545.6V560.7M748.5 541.7V548.3M749.5 537.8V544.0M750.5 538.7V544.7M757.5 536.1V577.9M758.5 531.7V540.1M760.5 533.1V545.4M762.5 534.4V543.2M765.5 539.9V547.5M766.5 526.6V544.9M767.5 484.3V529.9M768.5 475.2V496.7M772.5 500.5V511.0M773.5 498.0V506.9M776.5 517.6V522.6M781.5 518.9V531.0M782.5 512.6V525.0M783.5 507.6V513.6M784.5 504.5V513.8M785.5 486.6V512.5M786.5 477.6V493.0M787.5 464.6V486.6M790.5 480.5V486.7M793.5 485.5V498.3M795.5 487.9V496.3M798.5 491.4V496.6M799.5 491.2V497.8M800.5 489.0V494.9M801.5 486.0V490.2M802.5 483.8V488.8M809.5 502.3V518.7M810.5 494.9V504.7M811.5 493.2V498.2M812.5 487.7V494.2M814.5 489.5V494.6M815.5 488.8V493.8M816.5 488.9V492.9M817.5 485.0V490.8M821.5 497.2V503.4M822.5 493.7V501.4M823.5 491.3V496.3M824.5 481.8V497.4M825.5 481.6V490.1M830.5 507.1V517.7M831.5 507.0V512.9M832.5 504.7V512.6M834.5 501.2V510.4M835.5 504.7V512.1M836.5 499.2V512.7M837.5 490.8V500.6M838.5 482.3V497.0M841.5 512.9V529.4M842.5 511.3V520.3M843.5 485.9V528.4M844.5 479.3V513.8M845.5 469.1V493.2M846.5 459.6V487.7M849.5 525.6V536.7M851.5 520.4V535.3M852.5 519.4V531.5M856.5 531.4V542.6M857.5 524.6V541.6M858.5 519.6V528.3M859.5 511.4V520.3M860.5 505.4V520.4M861.5 502.7V507.9M866.5 520.1V524.4M868.5 511.8V525.3M869.5 500.4V518.8M870.5 488.7V514.7M871.5 488.8V502.0M875.5 501.3V510.6M879.5 506.9V526.7M880.5 495.4V516.0M881.5 482.6V508.5M882.5 463.4V488.7M883.5 463.1V469.4M884.5 456.0V467.2M886.5 455.9V463.8M894.5 459.3V481.6M895.5 449.2V463.5M905.5 492.3V506.1M907.5 510.7V533.1M908.5 495.4V513.8M909.5 489.6V502.3M911.5 480.9V509.8M912.5 466.3V488.9M913.5 463.4V481.2M914.5 466.4V480.9M915.5 434.2V470.5M916.5 423.0V442.4M921.5 450.0V456.2M922.5 443.0V454.9M925.5 439.1V458.4M926.5 430.3V444.8M929.5 428.7V437.9M930.5 426.1V436.6M936.5 459.5V469.8M937.5 441.0V465.1M942.5 455.4V462.3M944.5 453.6V460.0M954.5 499.9V505.7M957.5 509.8V517.2M958.5 503.3V511.2M959.5 501.2V505.6M960.5 499.4V504.1M961.5 497.3V504.1M963.5 501.5V505.9M965.5 498.0V505.0M966.5 496.7V501.3M967.5 497.1V501.4M968.5 492.4V497.8M971.5 492.8V495.8M972.5 491.8V495.9M973.5 489.4V494.6M974.5 489.1V492.4M975.5 486.5V489.5M976.5 483.4V487.5M979.5 493.1V496.1M981.5 491.1V496.1M988.5 501.3V505.2M989.5 499.4V502.4M990.5 496.8V502.6M995.5 497.2V502.2M996.5 496.8V500.9M998.5 499.6V503.7M999.5 500.8V503.8M1002.5 504.2V507.9M1003.5 502.5V506.6M1006.5 508.6V513.5M1007.5 500.8V512.1M1011.5 535.4V544.4M1016.5 581.0V604.0M1019.5 592.7V614.9M1022.5 571.2V600.5M1023.5 568.9V588.6M1029.5 590.4V622.0M1030.5 588.3V608.0M1036.5 613.2V642.5M1037.5 602.7V630.9M1038.5 585.6V611.7M1039.5 583.1V591.8M1040.5 575.9V585.9M1045.5 587.0V595.0M1046.5 581.2V597.1M1053.5 629.7V643.2M1054.5 611.2V635.2M1055.5 618.1V627.1M1056.5 607.4V624.3M1057.5 606.3V623.7M1058.5 604.8V615.4M1061.5 624.7V653.5M1062.5 597.7V630.6M1063.5 594.2V613.2M1066.5 595.2V610.8M1067.5 588.3V604.0M1068.5 581.6V590.7M1071.5 569.5V597.6M1072.5 557.1V573.7M1087.5 626.7V641.0M1088.5 616.3V630.5M1089.5 614.4V627.5M1095.5 639.4V664.7M1099.5 704.0V738.7M1100.5 690.6V723.9M1102.5 711.1V734.8M1103.5 703.5V717.4M1105.5 698.7V737.5M1106.5 694.5V719.2M1108.5 698.3V707.3M1109.5 697.5V714.6M1112.5 717.1V726.4M1113.5 696.3V724.5M1117.5 702.1V728.7M1120.5 720.0V734.3M1121.5 698.7V726.4M1122.5 684.4V728.7M1125.5 706.6V721.6M1126.5 706.1V727.3M1127.5 702.5V716.5M1128.5 698.3V712.8M1132.5 701.1V712.5M1133.5 704.7V710.5M1134.5 701.0V705.8M1139.5 712.8V718.1M1140.5 712.1V715.6M1149.5 709.2V712.2M1150.5 707.4V712.4M1151.5 705.5V710.2M1152.5 702.3V707.7M1153.5 699.5V705.5M1159.5 708.7V713.9M1160.5 704.8V713.6M1161.5 703.8V707.3M1166.5 712.9V719.0M1167.5 701.3V716.9M1168.5 689.7V703.5M1169.5 683.0V694.0M1170.5 673.0V688.2M1173.5 660.4V686.7M1174.5 660.3V668.0M1175.5 652.4V666.4M1176.5 618.3V654.4M1177.5 610.5V625.9M1181.5 630.6V636.7M1183.5 623.0V639.4M1185.5 625.6V640.1M1186.5 606.9V630.7M1189.5 612.5V623.9M1190.5 604.5V623.9M1191.5 575.0V609.5M1192.5 547.2V580.0M1195.5 549.4V566.6M1196.5 540.6V559.3M1197.5 540.0V548.7M1199.5 535.0V545.6M1201.5 534.7V551.4M1202.5 530.5V543.4M1203.5 526.7V538.6M1212.5 586.2V599.7M1213.5 586.6V595.6M1214.5 573.9V592.0M1215.5 565.0V586.5M1219.5 568.0V595.7M1220.5 552.2V589.3M1221.5 528.4V564.3M1222.5 530.2V541.7M1225.5 544.4V567.4M1226.5 531.1V557.7M1227.5 535.3V543.8M1229.5 540.3V553.3M1230.5 534.5V543.1M1232.5 532.6V541.6M1233.5 505.1V544.8M1234.5 473.1V525.0M1235.5 470.4V484.6M1236.5 470.7V482.8M1237.5 466.6V479.2M1238.5 454.1V483.3M1240.5 425.2V483.8M1241.5 422.4V440.6M1244.5 443.7V468.3M1245.5 446.0V457.7M1246.5 442.0V451.0M1247.5 427.1V457.0M1248.5 417.2V449.5M1249.5 385.0V422.3M1250.5 378.1V403.9M1256.5 406.0V415.0M1257.5 398.8V407.9M1258.5 400.0V409.0M1259.5 389.6V406.3M1260.5 394.4V403.4M1262.5 377.8V400.4M1263.5 365.5V386.7M1266.5 369.1V406.4M1267.5 345.4V372.4M1268.5 332.8V366.8M1269.5 327.2V336.2M1277.5 343.8V362.9M1278.5 341.0V356.0M1282.5 364.4V384.4M1283.5 356.6V376.5M1284.5 344.3V372.4M1285.5 344.9V358.1M1286.5 331.2V360.4M1287.5 334.3V353.0M1288.5 310.6V343.4M1289.5 277.2V312.4M1290.5 237.7V285.8M1293.5 288.6V314.9M1294.5 268.2V308.3M1297.5 283.9V292.9M1300.5 281.3V307.6M1301.5 276.4V293.6M1302.5 268.6V286.4M1306.5 279.2V287.9M1309.5 284.9V294.0M1310.5 282.4V292.1M1311.5 281.4V285.3M1316.5 300.6V309.2M1317.5 297.3V307.9M1318.5 290.4V301.4M1319.5 285.7V295.3M1320.5 284.8V291.8M1322.5 284.3V296.0M1323.5 266.4V288.1M1324.5 219.6V279.3M1325.5 189.9V229.7M1326.5 183.8V208.0M1332.5 262.1V271.1M1333.5 257.8V270.7M1339.5 255.8V290.2M1343.5 261.5V279.1M1344.5 257.1V274.7M1345.5 234.4V257.9M1346.5 227.4V245.8M1349.5 229.3V242.1M1351.5 230.7V241.2M1354.5 243.8V252.2M1355.5 232.7V244.3M1356.5 226.7V238.5M1357.5 221.9V229.1M1358.5 208.0V226.4M1359.5 198.6V220.8M1360.5 196.4V207.1M1361.5 190.6V199.2M1362.5 178.1V196.4M1363.5 169.2V187.8M1364.5 164.6V179.6M1379.5 231.7V255.2M1380.5 219.5V246.3M1381.5 204.5V226.6M1388.5 319.1V344.9M1389.5 299.4V326.7M1390.5 286.2V317.7M1391.5 289.0V297.7M1394.5 293.3V310.1M1399.5 317.1V326.9M1400.5 298.3V322.5M1401.5 292.5V305.9M1402.5 288.0V310.5M1403.5 261.1V303.0M1404.5 270.6V281.8M1405.5 259.2V272.8M1410.5 259.5V301.2M1411.5 236.6V276.2M1416.5 255.5V275.9M1417.5 245.6V263.6M1422.5 284.7V303.5M1423.5 280.4V304.4M1428.5 298.3V328.4M1429.5 269.2V302.0M1430.5 240.4V280.0M1431.5 237.3V258.3M1436.5 337.0V375.0M1437.5 320.8V345.6M1439.5 311.1V326.6M1441.5 300.2V331.7M1442.5 298.4V309.3M1447.5 316.6V323.7M1448.5 310.6V329.4M1451.5 313.0V335.9M1452.5 311.9V320.9M1453.5 303.6V322.3M1455.5 281.0V316.0M1456.5 276.4V305.8M1465.5 517.1V651.9M1468.5 580.1V652.5M1470.5 596.5V637.5M1475.5 629.8V662.9M1476.5 614.9V646.3M1477.5 613.2V622.2M1478.5 605.0V619.8M1479.5 598.1V627.6M1484.5 619.0V639.0M1488.5 652.8V707.3M1489.5 649.5V674.8M1493.5 669.0V707.3M1494.5 626.3V678.3M1495.5 611.7V641.8M1496.5 613.4V623.8M1501.5 633.5V650.1M1502.5 620.7V646.5M1503.5 617.4V638.7M1505.5 592.2V655.1M1506.5 548.6V613.0M1508.5 533.3V567.3M1509.5 541.6V554.8M1510.5 534.1V544.6M1511.5 512.5V545.6M1512.5 493.1V523.0M1513.5 489.6V511.8M1514.5 492.1V501.9M1515.5 491.7V509.7M1516.5 484.3V496.5M1520.5 519.4V539.2M1521.5 514.7V537.9M1522.5 502.6V534.6M1527.5 512.2V564.4M1530.5 529.3V551.1M1532.5 532.2V547.0M1533.5 498.2V548.5M1534.5 489.5V511.2M1536.5 487.6V503.6M1543.5 564.4V573.4M1546.5 622.2V654.6M1547.5 613.2V627.9M1550.5 648.8V684.9M1552.5 668.8V698.2M1553.5 610.4V679.4M1554.5 585.4V631.2M1555.5 582.6V591.6M1556.5 570.4V594.7M1559.5 582.8V625.1M1560.5 567.9V589.6M1561.5 564.1V583.9M1565.5 564.1V606.0M1567.5 611.9V632.4M1568.5 598.1V629.6M1569.5 596.9V612.0M1570.5 585.5V610.1M1571.5 569.4V598.6M1578.5 643.5V685.5M1579.5 650.3V659.3M1581.5 645.5V671.5M1584.5 635.2V664.8M1588.5 652.8V682.4M1589.5 630.1V664.5M1592.5 622.0V672.9M1596.5 655.1V709.6M1597.5 629.6V664.5M1598.5 637.4V670.5M1599.5 617.4V643.9M1603.5 741.9V780.0M1604.5 718.4V758.2M1608.5 748.8V784.1M1610.5 754.5V770.1M1611.5 731.6V759.0M1612.5 716.0V748.4M1613.5 714.4V726.9M1614.5 715.1V725.6M1621.5 857.0V923.7M1622.5 807.9V870.2M1623.5 848.6V872.3M1625.5 843.5V891.0M1626.5 791.1V857.4M1627.5 777.1V801.3M1629.5 799.1V826.9M1631.5 784.7V821.6M1632.5 775.2V805.9M1634.5 795.8V820.0M1635.5 787.6V816.7M1638.5 802.9V819.5M1639.5 794.1V805.1M1641.5 779.5V812.4M1644.5 795.6V811.4M1645.5 788.1V798.4M1649.5 797.4V810.6M1652.5 794.4V814.0M1653.5 796.5V805.5M1654.5 792.4V805.3M1655.5 784.4V800.6M1656.5 784.4V792.4M1660.5 791.5V805.0M1661.5 783.3V800.6M1662.5 783.0V794.7M1666.5 792.1V815.7M1668.5 760.3V833.3M1669.5 754.4V780.6M1671.5 770.0V782.1M1672.5 743.0V772.5M1673.5 736.4V758.3M1674.5 732.6V742.1M1675.5 725.7V747.1M1676.5 714.1V740.0M1681.5 721.5V738.0M1685.5 749.7V786.8M1686.5 727.5V765.9M1687.5 666.7V739.1M1688.5 673.7V688.2M1689.5 662.2V675.6M1690.5 637.1V674.2M1691.5 628.8V651.0M1695.5 658.0V667.0M1696.5 656.2V665.2M1697.5 648.9V669.1M1698.5 629.9V664.5M1701.5 672.3V702.5M1702.5 647.3V679.4M1703.5 654.8V666.8M1704.5 642.8V661.5M1707.5 670.5V681.5M1714.5 758.2V781.8M1717.5 742.3V781.5M1718.5 730.4V761.9M1719.5 713.2V737.1M1721.5 702.8V767.3M1722.5 589.0V709.3M1723.5 549.6V605.6M1733.5 739.5V761.5M1735.5 743.7V766.4M1736.5 732.4V755.9M1740.5 748.9V773.7M1743.5 793.0V835.9M1744.5 753.3V808.3M1745.5 723.5V771.7M1746.5 716.6V727.7M1749.5 746.7V776.5M1753.5 796.5V814.8M1754.5 782.5V802.7M1755.5 758.6V790.5M1756.5 756.2V766.9M1757.5 742.6V771.3M1759.5 736.6V757.2M1760.5 728.9V738.8M1761.5 728.9V744.4M1762.5 676.6V742.6M1767.5 710.4V724.3M1769.5 717.1V739.4M1770.5 697.6V722.9M1771.5 676.5V704.0M1772.5 651.3V695.7M1773.5 644.7V670.4M1777.5 700.8V709.8M1778.5 694.4V718.2M1779.5 667.0V700.3M1780.5 673.1V682.5M1781.5 660.5V680.2M1784.5 638.6V680.6M1785.5 633.5V644.2M1789.5 636.1V658.5M1791.5 628.7V673.3M1795.5 668.4V707.6M1796.5 673.8V683.5M1797.5 661.6V693.5M1798.5 658.4V676.9M1799.5 650.9V672.0M1800.5 657.2V672.6M1801.5 650.0V661.0M1805.5 656.2V660.2M1806.5 652.9V659.4M1807.5 649.0V654.2M1808.5 643.1V652.2M1809.5 641.7V646.2M1810.5 636.4V648.6M1811.5 628.1V637.0M1814.5 632.7V641.4M1815.5 627.8V635.0M1816.5 625.5V631.7M1820.5 642.6V652.3M1821.5 635.8V650.8M1822.5 631.3V638.7M1825.5 637.0V647.1M1826.5 632.8V640.6M1828.5 625.4V636.8M1832.5 641.4V649.5M1833.5 634.6V643.0M1834.5 628.5V638.9M1835.5 632.2V638.6M1836.5 616.0V636.3M1837.5 599.0V628.1M1839.5 573.5V606.5M1840.5 559.8V581.3M1841.5 554.4V564.0M1843.5 563.9V575.9M1844.5 563.4V580.1M1849.5 575.0V591.2M1850.5 507.0V577.3M1852.5 525.2V549.7M1853.5 511.0V528.1M1855.5 507.4V529.9M1856.5 496.1V515.4M1857.5 485.6V511.0M1858.5 478.3V505.2M1861.5 493.9V521.8M1866.5 528.5V542.0M1867.5 507.9V529.4M1868.5 503.9V512.9M1869.5 493.0V510.8M1875.5 545.0V566.1M1876.5 539.1V552.0M1879.5 547.9V567.7M1881.5 562.9V577.4M1882.5 540.4V567.3M1883.5 546.3V558.6M1884.5 531.5V548.8M1885.5 535.8V557.6M1886.5 532.2V541.2M1888.5 525.5V543.9M1889.5 502.4V530.8M1892.5 517.0V555.1M1897.5 594.4V619.0M1898.5 580.9V602.2M1901.5 608.6V623.5M1902.5 597.8V616.4M1903.5 588.6V620.7M1904.5 576.9V603.3M1905.5 574.8V594.3M1906.5 573.7V596.9M1907.5 563.9V575.7M1910.5 582.7V594.6M1911.5 574.4V598.2M1912.5 563.1V579.3M1916.5 629.4V659.9M1919.5 624.3V697.5M1921.5 635.8V681.4M1924.5 672.3V704.3M1925.5 666.5V675.5M1926.5 659.9V669.6M1929.5 689.2V768.2M1930.5 648.8V689.2M1931.5 635.2V652.4M1938.5 749.6V780.2M1941.5 781.0V825.9M1944.5 765.4V827.0M1945.5 751.8V784.6M1946.5 751.8V769.8M1947.5 740.6V762.8M1948.5 689.2V743.5M1951.5 713.5V739.6M1952.5 680.2V720.2M1956.5 690.0V720.1M1957.5 675.9V704.6M1959.5 670.9V701.5M1960.5 668.6V685.4M1962.5 677.2V718.2M1963.5 653.4V685.9M1966.5 713.2V745.1M1967.5 686.2V724.7M1970.5 689.3V723.4M1973.5 699.7V714.9M1974.5 702.5V711.2M1975.5 687.8V705.7M1976.5 677.9V701.0M1977.5 674.3V682.5M1980.5 675.4V688.1M1987.5 689.1V706.6M1988.5 673.9V692.5M1989.5 673.3V682.9M1991.5 678.3V684.3M1996.5 690.6V696.2M1998.5 687.2V697.8M2000.5 669.9V695.0M2001.5 665.0V684.4M2002.5 665.2V673.1M2004.5 660.4V678.2M2007.5 657.0V679.5M2011.5 680.3V690.8M2014.5 676.5V702.5M2015.5 677.3V687.6M2020.5 663.3V708.2M2025.5 769.3V779.7M2027.5 771.2V800.4M2029.5 780.3V810.4M2032.5 764.1V802.8M2033.5 745.2V766.0M2034.5 745.2V757.6M2037.5 803.7V863.8M2038.5 758.9V821.9M2041.5 794.3V818.3M2044.5 809.3V838.2M2046.5 788.7V818.3M2048.5 800.2V835.6M2049.5 783.0V802.5M2055.5 888.3V925.6M2059.5 905.0V952.1M2063.5 1011.7V1071.0M2065.5 1008.8V1074.4M2067.5 980.3V1061.2M2068.5 996.9V1035.8M2070.5 1036.2V1100.5M2071.5 983.6V1045.5M2072.5 961.3V999.5M2074.5 967.1V1000.8M2077.5 981.9V1015.7M2078.5 972.2V991.1M2080.5 976.8V1002.5M2081.5 950.6V984.1M2083.5 926.8V985.3M2084.5 924.1V951.2M2085.5 912.6V940.9M2086.5 882.1V914.8M2087.5 883.9V900.4M2091.5 912.5V930.1M2095.5 915.7V949.3M2096.5 895.5V922.7M2098.5 893.7V939.7M2102.5 920.8V939.8M2105.5 947.9V972.2M2106.5 916.5V949.6M2110.5 981.7V1027.8M2111.5 976.4V1037.8M2112.5 964.1V996.6M2114.5 1016.1V1038.3M2115.5 992.3V1025.5M2118.5 981.5V1021.7M2119.5 971.4V994.3M2120.5 971.3V999.2M2122.5 956.9V1003.4M2124.5 973.3V990.5M2130.5 1058.3V1082.8M2131.5 1023.3V1075.4M2132.5 1013.5V1038.0M2133.5 995.0V1024.1M2134.5 954.7V1011.5M2135.5 944.1V962.1M2136.5 927.9V952.5M2137.5 898.5V935.0M2138.5 898.5V923.1M2142.5 927.1V966.2M2144.5 928.0V953.5M2149.5 950.8V990.0M2151.5 950.8V974.1M2153.5 969.7V991.2M2155.5 983.5V1000.5M2157.5 987.1V999.4M2158.5 982.9V1002.7M2159.5 972.3V985.6M2161.5 973.2V987.2M2162.5 957.5V979.5M2163.5 957.6V977.9M2169.5 984.9V998.4M2170.5 972.8V987.6M2172.5 978.5V1000.0M2173.5 966.6V982.8M2175.5 989.0V1003.4M2176.5 964.3V998.2M2177.5 956.3V968.5M2178.5 926.9V957.8M2179.5 897.8V937.6M2182.5 904.4V936.7M2183.5 887.1V910.3M2184.5 881.0V892.7M2187.5 879.8V908.2M2188.5 843.8V890.2M2189.5 811.2V863.0M2192.5 822.9V837.4M2193.5 812.2V829.3M2194.5 815.3V824.3M2196.5 812.4V838.0M2197.5 807.5V823.0M2200.5 821.5V845.8M2202.5 807.5V841.0M2204.5 861.4V887.6M2205.5 833.6V863.0M2208.5 830.8V853.3M2209.5 821.8V833.0M2211.5 822.3V841.7M2213.5 799.3V838.5M2214.5 776.6V807.1M2215.5 792.0V802.1"/>
</g>
<path d="M20 863H2117" stroke="#089981" stroke-width="2" stroke-dasharray="2 4" fill="none"/>
<g clip-path="url(#cp)">
<defs><clipPath id="cp"><rect x="2150" y="1100" width="84" height="90"/></clipPath></defs>
<rect x="2191.4" y="1143.8" width="43" height="41.3" fill="#fff"/>
<path d="M2205.16 1161.3A19.4 19.4 0 0 1 2228.89 1146.18M2209.12 1177.21A19.4 19.4 0 0 0 2241 1174.7" fill="none" stroke="#9423ad" stroke-width="3.3"/>
<path d="M2227.65 1154.24L2229.1 1155.86L2223.26 1163.77L2232.04 1163.9L2218.21 1175.84L2216.23 1174.53L2222.16 1165.74L2214.17 1165.52Z" fill="#9423ad"/>
<circle cx="2235.9" cy="1151" r="4.3" fill="#f23645"/>
<path d="M2201.90 1162.30Q2203.10 1170.80 2211.60 1172.00Q2203.10 1173.20 2201.90 1181.70Q2200.70 1173.20 2192.20 1172.00Q2200.70 1170.80 2201.90 1162.30Z" fill="#7c4dff"/>
</g>
<rect x="2242.5" y="61.8" width="119" height="52" rx="9" fill="#fff" stroke="#f0f1f3" stroke-width="2"/>
<text x="19.6" y="39.3" textLength="815.2" style="fill:#111">carodejmetlodej created with TradingView.com, Nov 11, 2025 10:39 UTC</text>
<text x="35.6" y="94.0" textLength="385.2">Bitcoin / U.S. Dollar · 1h · Bitstamp</text>
<text x="434.2" y="94.0">O</text>
<text x="453.6" y="94.0" textLength="91.0" class="g">104,955</text>
<text x="558.2" y="94.0">H</text>
<text x="575.7" y="94.0" textLength="90.6" class="g">105,202</text>
<text x="680.0" y="94.0">L</text>
<text x="694.2" y="94.0" textLength="88.2" class="g">104,913</text>
<text x="796.0" y="94.0">C</text>
<text x="813.6" y="94.0" textLength="87.6" class="g">105,166</text>
<text x="915.2" y="94.0" textLength="57.6" class="g">+205</text>
<text x="982.8" y="94.0" textLength="103.4" class="g">(+0.20%)</text>
<text x="2259.8" y="96.3" textLength="50.2">USD</text>
<text x="2253.3" y="181.8" textLength="95.8">126,000</text>
<text x="2253.3" y="242.8" textLength="95.8">124,000</text>
<text x="2253.3" y="304.8" textLength="95.8">122,000</text>
<text x="2253.3" y="366.8" textLength="95.8">120,000</text>
<text x="2253.3" y="430.8" textLength="95.8">118,000</text>
<text x="2253.3" y="495.8" textLength="95.8">116,000</text>
<text x="2253.3" y="562.8" textLength="95.8">114,000</text>
<text x="2253.3" y="629.8" textLength="95.8">112,000</text>
<text x="2253.3" y="697.8" textLength="95.8">110,000</text>
<text x="2253.3" y="767.8" textLength="95.8">108,000</text>
<text x="2253.3" y="838.8" textLength="95.8">106,000</text>
<text x="2253.3" y="911.8" textLength="95.8">104,000</text>
<text x="2253.3" y="985.8" textLength="95.8">102,000</text>
<text x="2253.3" y="1045.8" textLength="95.8">100,400</text>
<text x="2253.3" y="1112.8" textLength="81.6">98,650</text>
<text x="2253.3" y="1174.8" textLength="81.6">97,050</text>
<path d="M2124 846H2234V879.7H2124A4 4 0 0 1 2120 875.7V850A4 4 0 0 1 2124 846Z" fill="#089981"/>
<path d="M2236 846H2356A4 4 0 0 1 2360 850V903.8A4 4 0 0 1 2356 907.8H2236Z" fill="#089981"/>
<text x="2253.3" y="870.3" textLength="95.8" class="w">105,166</text>
<text x="2252.6" y="898.3" textLength="66.0" style="fill:rgba(255,255,255,.76)">20:19</text>
<text x="2127.3" y="871.2" textLength="98.4" class="w">BTCUSD</text>
<text x="21.8" y="1228.0">2</text>
<text x="142.8" y="1228" text-anchor="middle" style="letter-spacing:3.2px">17</text>
<text x="263.0" y="1228" text-anchor="middle" style="letter-spacing:3.2px">22</text>
<text x="383.7" y="1228" text-anchor="middle" style="letter-spacing:3.2px">27</text>
<text x="502.9" y="1228" text-anchor="middle" class="b" style="letter-spacing:1.2px">Sep</text>
<text x="622.3" y="1228" text-anchor="middle">6</text>
<text x="744.6" y="1228" text-anchor="middle" style="letter-spacing:3.2px">11</text>
<text x="865.1" y="1228" text-anchor="middle" style="letter-spacing:3.2px">16</text>
<text x="985.6" y="1228" text-anchor="middle" style="letter-spacing:3.2px">21</text>
<text x="1105.6" y="1228" text-anchor="middle" style="letter-spacing:3.2px">26</text>
<text x="1225.6" y="1228" text-anchor="middle" class="b" style="letter-spacing:1.2px">Oct</text>
<text x="1344.9" y="1228" text-anchor="middle">6</text>
<text x="1467.6" y="1228" text-anchor="middle" style="letter-spacing:3.2px">11</text>
<text x="1587.9" y="1228" text-anchor="middle" style="letter-spacing:3.2px">16</text>
<text x="1708.5" y="1228" text-anchor="middle" style="letter-spacing:3.2px">21</text>
<text x="1829.1" y="1228" text-anchor="middle" style="letter-spacing:3.2px">26</text>
<text x="1973.3" y="1228" text-anchor="middle" class="b" style="letter-spacing:1.2px">Nov</text>
<text x="2092.8" y="1228" text-anchor="middle">6</text>
<text x="2215.1" y="1228" text-anchor="middle" style="letter-spacing:3.2px">11</text>
<g fill="#131313"><path d="M23.9 1290.1H48V1319.7H35.8V1301.8H23.9Z"/><circle cx="58.1" cy="1295.6" r="6"/><path d="M70 1290.1H83.7L72.3 1319.7H58.1Z"/></g>
<text x="97.2" y="1319.6" textLength="242.4" class="b" style="font-size:43px;fill:#131313;stroke:#131313;stroke-width:.7">TradingView</text>
</svg>
</body></html>
